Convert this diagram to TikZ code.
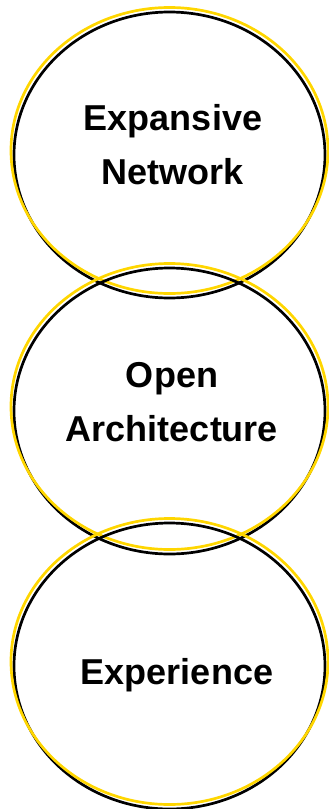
\documentclass[tikz,border=0pt]{standalone}
\usepackage{fontspec}
\setmainfont{Liberation Sans}
\usetikzlibrary{shapes.geometric}
\definecolor{gold}{RGB}{255,214,0}
\tikzset{
  ring/.style={ellipse, draw=black, line width=2.7pt, minimum width=311pt, minimum height=286pt, inner sep=0pt},
  halo/.style={ellipse, draw=gold, line width=2.7pt, minimum width=317pt, minimum height=286pt, inner sep=0pt},
  word/.style={font=\bfseries\fontsize{36}{54}\selectfont, align=center}
}
\begin{document}
\begin{tikzpicture}[x=1pt,y=-1pt]
    \useasboundingbox (0,0) rectangle (329,809);

    % top ring
    \node[ring] (net) at (169.5,155) {};
    \node[halo] (netglow) at (169.5,150.5) {};

    % middle ring
    \node[ring] (arch) at (169.5,411) {};
    \node[halo] (archglow) at (169.5,406.5) {};

    % bottom ring
    \node[ring] (exp) at (169.5,666) {};
    \node[halo] (expglow) at (169.5,661.5) {};

    % labels
    \node[word] (nettext) at (173,145) {Expansive\\Network};
    \node[word] (archtext) at (172,402) {Open\\Architecture};
    \node[word] (exptext) at (177,675) {Experience};
\end{tikzpicture}
\end{document}
